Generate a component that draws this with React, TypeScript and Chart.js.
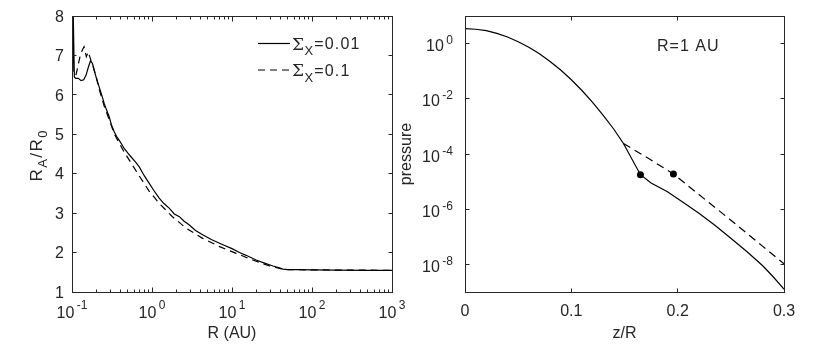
import React, { useEffect, useRef } from "react";
import { Chart, registerables } from "chart.js";

Chart.register(...registerables);

// ---------------- data: left panel ----------------
const leftSolidR = [0.1, 0.1025, 0.107, 0.112, 0.12, 0.13, 0.14, 0.15, 0.16, 0.17, 0.18, 0.189, 0.2, 0.218, 0.235, 0.252, 0.27, 0.291, 0.31, 0.336, 0.36, 0.388, 0.42, 0.449, 0.5, 0.545, 0.62, 0.69, 0.8, 0.92, 1.05, 1.23, 1.4, 1.65, 1.9, 2.2, 2.5, 2.93, 3.5, 4.3, 5.5, 7.7, 10, 12.4, 15, 20, 25, 32.5, 38, 43.4, 50, 70, 100, 200, 500, 1000];
const leftSolidRatio = [6.6, 8.6, 6.45, 6.42, 6.42, 6.36, 6.38, 6.5, 6.7, 6.86, 6.8, 6.63, 6.45, 6.21, 6.0, 5.79, 5.62, 5.45, 5.25, 5.07, 4.95, 4.85, 4.74, 4.64, 4.52, 4.43, 4.3, 4.18, 3.95, 3.76, 3.58, 3.38, 3.25, 3.12, 2.98, 2.91, 2.8, 2.7, 2.56, 2.45, 2.33, 2.2, 2.1, 2.0, 1.93, 1.81, 1.74, 1.66, 1.62, 1.58, 1.57, 1.565, 1.56, 1.555, 1.55, 1.55];
const leftDashedR = [0.112, 0.1285, 0.1414, 0.151, 0.16, 0.172, 0.185, 0.198, 0.218, 0.252, 0.291, 0.336, 0.388, 0.449, 0.545, 0.69, 0.92, 1.23, 1.8, 2.67, 4.3, 7.0, 11.3, 18.2, 29.5, 39.4, 45, 50, 100, 1000];
const leftDashedRatio = [6.5, 7.05, 7.22, 6.97, 7.09, 6.88, 6.7, 6.5, 6.15, 5.72, 5.38, 5.02, 4.78, 4.55, 4.28, 3.95, 3.56, 3.25, 2.91, 2.62, 2.36, 2.15, 1.98, 1.81, 1.66, 1.6, 1.575, 1.568, 1.56, 1.55];
const leftXTickValues = [0.1, 1, 10, 100, 1000];
const leftXTickExponents = ["-1", "0", "1", "2", "3"];
const leftYTickValues = [1, 2, 3, 4, 5, 6, 7, 8];
const leftLegendValues = ["0.01", "0.1"];

// ---------------- data: right panel ----------------
const rightSolidZ = [0, 0.01, 0.02, 0.03, 0.04, 0.05, 0.06, 0.07, 0.08, 0.09, 0.1, 0.11, 0.12, 0.13, 0.14, 0.149, 0.165, 0.175, 0.19, 0.205, 0.22, 0.235, 0.25, 0.265, 0.28, 0.29, 0.3];
const rightSolidP = [3.47, 3.31, 2.95, 2.34, 1.74, 1.17, 0.74, 0.427, 0.224, 0.11, 0.049, 0.02, 0.0074, 0.0025, 7.9e-4, 2.4e-4, 1.78e-5, 8.9e-6, 4.4e-6, 1.8e-6, 7.1e-7, 2.6e-7, 8.9e-8, 2.95e-8, 8.9e-9, 3.5e-9, 1.26e-9];
const rightDashedZ = [0.149, 0.172, 0.196, 0.22, 0.25, 0.28, 0.3];
const rightDashedP = [2.4e-4, 7.1e-5, 1.9e-5, 3.4e-6, 4.0e-7, 4.5e-8, 1.05e-8];
const rightMarkZ = [0.165, 0.196];
const rightMarkP = [1.78e-5, 1.9e-5];
const rightXTickValues = [0, 0.1, 0.2, 0.3];
const rightXTickLabels = ["0", "0.1", "0.2", "0.3"];
const rightYTickValues = [1, 1e-2, 1e-4, 1e-6, 1e-8];
const rightYTickExponents = ["0", "-2", "-4", "-6", "-8"];
const rightAnnotation = "R=1 AU";

// ---------------- style ----------------
const W = 817;
const H = 345;
const AXIS = "#262626";
const SANS = "'Liberation Sans', Arial, Helvetica, sans-serif";
const SERIF = "'DejaVu Serif', 'Liberation Serif', serif";
const BASE = 16;
const SMALL = 12;
const DASH = [7, 5];

const crisp = (v: number) => Math.floor(v) + 0.5;

function setSpacing(ctx: CanvasRenderingContext2D, px: number) {
  (ctx as any).letterSpacing = `${px}px`;
}

function drawPow(ctx: CanvasRenderingContext2D, x: number, baseY: number, expY: number, exp: string, align: "center" | "right") {
  ctx.font = `${BASE}px ${SANS}`;
  const wb = ctx.measureText("10").width;
  ctx.font = `${SMALL}px ${SANS}`;
  const we = ctx.measureText(exp).width;
  const gap = 2.5;
  const total = wb + gap + we;
  const sx = align === "center" ? x - total / 2 : x - total;
  ctx.textAlign = "left";
  ctx.textBaseline = "alphabetic";
  ctx.font = `${BASE}px ${SANS}`;
  ctx.fillText("10", sx, baseY);
  ctx.font = `${SMALL}px ${SANS}`;
  ctx.fillText(exp, sx + wb + gap, expY);
}

function drawFrame(ctx: CanvasRenderingContext2D, area: any) {
  const l = crisp(area.left), r = crisp(area.right), t = crisp(area.top), b = crisp(area.bottom);
  ctx.strokeStyle = AXIS;
  ctx.lineWidth = 1;
  ctx.strokeRect(l, t, r - l, b - t);
  return { l, r, t, b };
}

function xTick(ctx: CanvasRenderingContext2D, x: number, t: number, b: number, len: number) {
  const px = crisp(x);
  ctx.beginPath();
  ctx.moveTo(px, b); ctx.lineTo(px, b - len);
  ctx.moveTo(px, t); ctx.lineTo(px, t + len);
  ctx.stroke();
}
function yTick(ctx: CanvasRenderingContext2D, y: number, l: number, r: number, len: number) {
  const py = crisp(y);
  ctx.beginPath();
  ctx.moveTo(l, py); ctx.lineTo(l + len, py);
  ctx.moveTo(r, py); ctx.lineTo(r - len, py);
  ctx.stroke();
}

const leftDecor = {
  id: "leftDecor",
  afterDraw(chart: any) {
    const ctx: CanvasRenderingContext2D = chart.ctx;
    const xs = chart.scales.x, ys = chart.scales.y;
    ctx.save();
    const { l, r, t, b } = drawFrame(ctx, chart.chartArea);
    for (let d = 0.1; d < 1000; d *= 10) {
      for (let k = 2; k <= 9; k++) xTick(ctx, xs.getPixelForValue(k * d), t, b, 3);
    }
    leftXTickValues.forEach((v) => xTick(ctx, xs.getPixelForValue(v), t, b, 5));
    leftYTickValues.forEach((v) => yTick(ctx, ys.getPixelForValue(v), l, r, 4));
    ctx.fillStyle = AXIS;
    leftXTickValues.forEach((v, i) => {
      drawPow(ctx, xs.getPixelForValue(v), 318, 309, leftXTickExponents[i], "center");
    });
    ctx.font = `${BASE}px ${SANS}`;
    ctx.textAlign = "right";
    ctx.textBaseline = "alphabetic";
    leftYTickValues.forEach((v) => {
      ctx.fillText(String(v), 64, ys.getPixelForValue(v) + 5.7);
    });
    ctx.textAlign = "center";
    ctx.fillText("R (AU)", (chart.chartArea.left + chart.chartArea.right) / 2, 338);
    // y title R_A/R_0 rotated
    ctx.save();
    ctx.translate(41.5, (chart.chartArea.top + chart.chartArea.bottom) / 2 + 2);
    ctx.rotate(-Math.PI / 2);
    const parts: [string, boolean][] = [["R", false], ["A", true], ["/", false], ["R", false], ["0", true]];
    const sp = 1.5;
    let total = 0;
    parts.forEach(([s, sub]) => {
      ctx.font = `${sub ? 13 : 17}px ${SANS}`;
      total += ctx.measureText(s).width + sp;
    });
    total -= sp;
    let cx = -total / 2;
    ctx.textAlign = "left";
    parts.forEach(([s, sub]) => {
      ctx.font = `${sub ? 13 : 17}px ${SANS}`;
      ctx.fillText(s, cx, sub ? 5 : 0);
      cx += ctx.measureText(s).width + sp;
    });
    ctx.restore();
    // legend
    const ds = chart.data.datasets;
    const legendY = [43.5, 70];
    leftLegendValues.forEach((val, i) => {
      const y = legendY[i];
      ctx.strokeStyle = "#000";
      ctx.lineWidth = 1.2;
      ctx.setLineDash(ds[i].borderDash || []);
      ctx.beginPath();
      ctx.moveTo(258, y); ctx.lineTo(290, y);
      ctx.stroke();
      ctx.setLineDash([]);
      ctx.fillStyle = AXIS;
      ctx.textAlign = "left";
      let tx = 292;
      ctx.font = `17px ${SERIF}`;
      ctx.fillText("Σ", tx, y + 6);
      tx += ctx.measureText("Σ").width + 0.5;
      ctx.font = `13px ${SANS}`;
      ctx.fillText("X", tx, y + 11.5);
      tx += ctx.measureText("X").width + 1;
      ctx.font = `${BASE}px ${SANS}`;
      setSpacing(ctx, 1.2);
      ctx.fillText("=" + val, tx, y + 5.7);
      setSpacing(ctx, 0);
    });
    ctx.restore();
  },
};

const rightDecor = {
  id: "rightDecor",
  afterDraw(chart: any) {
    const ctx: CanvasRenderingContext2D = chart.ctx;
    const xs = chart.scales.x, ys = chart.scales.y;
    ctx.save();
    const { l, r, t, b } = drawFrame(ctx, chart.chartArea);
    rightXTickValues.forEach((v) => xTick(ctx, xs.getPixelForValue(v), t, b, 4));
    rightYTickValues.forEach((v) => yTick(ctx, ys.getPixelForValue(v), l, r, 4));
    ctx.fillStyle = AXIS;
    ctx.font = `${BASE}px ${SANS}`;
    ctx.textAlign = "center";
    ctx.textBaseline = "alphabetic";
    rightXTickValues.forEach((v, i) => {
      ctx.fillText(rightXTickLabels[i], xs.getPixelForValue(v), 316);
    });
    rightYTickValues.forEach((v, i) => {
      const y = ys.getPixelForValue(v);
      drawPow(ctx, 453, y + 7.5, y + 0.5, rightYTickExponents[i], "right");
    });
    ctx.font = `${BASE}px ${SANS}`;
    ctx.textAlign = "center";
    ctx.fillText("z/R", (chart.chartArea.left + chart.chartArea.right) / 2, 338);
    ctx.save();
    ctx.translate(410.5, (chart.chartArea.top + chart.chartArea.bottom) / 2);
    ctx.rotate(-Math.PI / 2);
    ctx.fillText("pressure", 0, 0);
    ctx.restore();
    ctx.textAlign = "left";
    setSpacing(ctx, 1);
    ctx.fillText(rightAnnotation, 657, 50.7);
    setSpacing(ctx, 0);
    ctx.restore();
  },
};

function useChart(ref: React.RefObject<HTMLCanvasElement>, build: () => any) {
  useEffect(() => {
    if (!ref.current) return;
    const chart = new Chart(ref.current, build());
    return () => chart.destroy();
  }, []);
}

const baseOptions = (padding: any) => ({
  responsive: false,
  animation: false,
  events: [],
  layout: { padding },
  plugins: { legend: { display: false }, tooltip: { enabled: false } },
});

export default function App() {
  const leftRef = useRef<HTMLCanvasElement>(null);
  const rightRef = useRef<HTMLCanvasElement>(null);

  useChart(leftRef, () => ({
    type: "line",
    data: {
      datasets: [
        {
          label: "Σ_X=0.01",
          data: leftSolidR.map((x, i) => ({ x, y: leftSolidRatio[i] })),
          borderColor: "#000",
          borderWidth: 1.2,
          pointRadius: 0,
          tension: 0,
          fill: false,
        },
        {
          label: "Σ_X=0.1",
          data: leftDashedR.map((x, i) => ({ x, y: leftDashedRatio[i] })),
          borderColor: "#000",
          borderWidth: 1.2,
          borderDash: DASH,
          pointRadius: 0,
          tension: 0,
          fill: false,
        },
      ],
    },
    options: {
      ...baseOptions({ left: 72, right: W - 392, top: 16, bottom: H - 292 }),
      scales: {
        x: { type: "logarithmic", min: 0.1, max: 1000, display: false },
        y: { type: "linear", min: 1, max: 8, display: false },
      },
    },
    plugins: [leftDecor],
  }));

  useChart(rightRef, () => ({
    type: "line",
    data: {
      datasets: [
        {
          label: "solid",
          data: rightSolidZ.map((x, i) => ({ x, y: rightSolidP[i] })),
          borderColor: "#000",
          borderWidth: 1.2,
          pointRadius: 0,
          tension: 0,
          fill: false,
        },
        {
          label: "dashed",
          data: rightDashedZ.map((x, i) => ({ x, y: rightDashedP[i] })),
          borderColor: "#000",
          borderWidth: 1.2,
          borderDash: [8, 5],
          pointRadius: 0,
          tension: 0,
          fill: false,
        },
        {
          label: "marks",
          data: rightMarkZ.map((x, i) => ({ x, y: rightMarkP[i] })),
          showLine: false,
          pointRadius: 3.5,
          pointBackgroundColor: "#000",
          pointBorderColor: "#000",
          pointBorderWidth: 0,
        },
      ],
    },
    options: {
      ...baseOptions({ left: 465, right: W - 784, top: 16, bottom: H - 292 }),
      scales: {
        x: { type: "linear", min: 0, max: 0.3, display: false },
        y: { type: "logarithmic", min: 1e-9, max: 10, display: false },
      },
    },
    plugins: [rightDecor],
  }));

  const canvasStyle: React.CSSProperties = { position: "absolute", left: 0, top: 0 };
  return (
    <div style={{ position: "absolute", left: 0, top: 0, width: W, height: H, background: "#fff" }}>
      <canvas ref={leftRef} width={W} height={H} style={canvasStyle} />
      <canvas ref={rightRef} width={W} height={H} style={canvasStyle} />
    </div>
  );
}
